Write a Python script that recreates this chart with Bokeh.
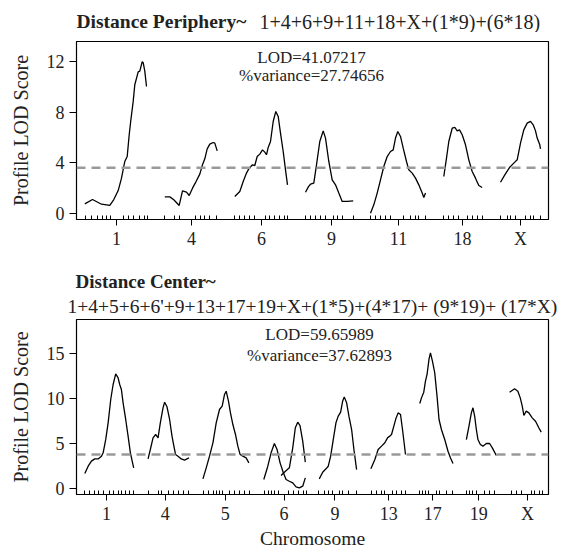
from bokeh.plotting import figure
from bokeh.layouts import column
from bokeh.models import FixedTicker, Span, Label, Title
from bokeh.core.properties import value
from bokeh.embed import file_html
from bokeh.resources import INLINE

# ---------------- data (map position in cumulative units, LOD score) ----------------
# Top panel: Distance Periphery
top_chr1_pos = [8.3, 16, 25, 30, 33.3, 37.3, 41.7, 45, 48.3, 50.7, 52.7, 54.3, 56.7, 58.3, 61.7, 63.3, 65.7, 66.7, 68.3, 70]
top_chr1_lod = [0.74, 1.08, 0.71, 0.66, 0.61, 1.08, 1.79, 2.77, 4.09, 4.48, 6.20, 7.33, 8.84, 10.16, 11.18, 11.24, 11.98, 11.90, 11.24, 10.02]
top_chr4_pos = [88.3, 93.3, 97.3, 102.7, 106, 110, 112.7, 116, 119.3, 123.3, 126, 128.3, 130.7, 133.3, 136.7, 138.3, 140.7]
top_chr4_lod = [1.29, 1.29, 1.06, 0.61, 1.77, 1.66, 1.40, 1.98, 2.46, 3.09, 3.83, 4.30, 5.09, 5.46, 5.59, 5.54, 4.93]
top_chr6_pos = [158.3, 163.3, 166.7, 170, 172.7, 176, 178.3, 180.7, 183.3, 186, 188.3, 190, 191.7, 194, 196.7, 199.3, 201.7, 204, 206.7, 209, 211]
top_chr6_lod = [1.32, 1.72, 2.51, 3.17, 3.56, 3.83, 3.77, 4.48, 4.67, 5.01, 4.83, 4.62, 5.20, 5.67, 7.25, 8.05, 7.65, 6.33, 4.88, 3.43, 2.24]
top_chr9_pos = [229, 232, 234, 237.3, 240, 243.3, 246.7, 249, 252.3, 255.7, 259, 262.3, 265.7, 270.7, 276.7]
top_chr9_lod = [1.66, 2.10, 2.29, 2.37, 3.82, 5.67, 6.51, 5.94, 4.09, 2.64, 2.24, 1.59, 0.93, 0.93, 0.98]
top_chr11_pos = [294, 297.3, 300.7, 304, 307.3, 310.7, 314, 316.7, 319, 321.3, 324, 326.7, 330, 332.3, 335.7, 339, 342.3, 345.7, 347.3, 349]
top_chr11_lod = [0.0, 0.66, 1.59, 2.64, 3.69, 4.48, 4.88, 5.01, 5.94, 6.46, 6.07, 5.14, 4.09, 3.43, 3.17, 2.77, 2.24, 1.59, 1.24, 1.59]
top_chr18_pos = [367.3, 370, 372.3, 375.7, 378.3, 380.7, 383, 385.7, 389, 392.3, 395.7, 399, 402.3, 405.7]
top_chr18_lod = [2.90, 4.35, 5.67, 6.72, 6.78, 6.51, 6.59, 6.20, 5.41, 4.22, 3.30, 2.77, 2.19, 2.03]
top_chrX_pos = [424, 428.3, 433, 437.3, 440.7, 444, 447.3, 450.7, 454, 456.7, 459, 460.7, 463.3, 464]
top_chrX_lod = [2.45, 3.03, 3.61, 3.96, 4.22, 5.54, 6.59, 7.12, 7.26, 6.99, 6.51, 5.94, 5.41, 5.09]

top_chrom_names = ["1", "4", "6", "9", "11", "18", "X"]
top_chrom_centers = [40, 115, 185, 255, 322, 386, 444]
top_markers = [9, 15, 21, 26, 30, 34, 47, 52, 57, 63, 68, 71,
               88, 98, 103, 119, 124, 128, 133, 140,
               158, 163, 168, 173, 178, 189, 193, 198, 203, 208, 211,
               229, 234, 239, 244, 249, 257, 261, 266, 277,
               294, 299, 304, 309, 314, 327, 334, 339, 342, 349,
               367, 372, 377, 382, 391, 396, 401, 406,
               424, 431, 434, 439, 449, 454, 457, 464]
top_yticks = [0, 4, 8, 12]
top_threshold = 3.6
top_lod_text = "LOD=41.07217"
top_var_text = "%variance=27.74656"
top_title_bold = "Distance Periphery~"
top_title_formula = "1+4+6+9+11+18+X+(1*9)+(6*18)"

# Bottom panel: Distance Center
bot_chr1_pos = [8.3, 11.7, 15, 18.3, 21.7, 25, 26.7, 29.3, 31.7, 34.3, 36.7, 39.3, 41.7, 43.3, 45, 46.7, 49.3, 51.7, 54, 57.3]
bot_chr1_lod = [1.69, 2.50, 3.06, 3.31, 3.31, 3.61, 3.98, 5.46, 7.30, 9.88, 11.54, 12.72, 12.28, 11.54, 10.99, 9.51, 7.67, 5.83, 3.98, 2.32]
bot_chr4_pos = [71.7, 74, 76.7, 79.3, 81.7, 84, 86.7, 88.3, 90.7, 93.3, 95.7, 97.3, 99.3, 101.7, 105, 108.3, 112.7]
bot_chr4_lod = [3.31, 4.35, 5.64, 6.01, 5.64, 7.30, 8.96, 9.58, 9.07, 7.67, 5.83, 4.90, 3.79, 3.61, 3.31, 3.17, 3.42]
bot_chr5_pos = [126.7, 130, 133.3, 136.7, 140, 143.3, 146, 148.3, 150, 152.3, 154.3, 156.7, 159.3, 161.7, 164, 166.7, 170, 172.7]
bot_chr5_lod = [1.10, 2.32, 3.61, 5.09, 7.30, 8.77, 9.14, 10.43, 10.80, 9.69, 8.40, 7.11, 6.01, 4.72, 3.79, 3.61, 3.42, 2.87]
bot_chr6_pos = [187.7, 191.7, 195, 198.3, 201, 204, 207.3, 210, 213.3, 216.7, 220, 223.3, 226.7, 229.3]
bot_chr6_lod = [1.03, 2.50, 3.98, 5.01, 4.35, 2.87, 1.77, 1.03, 0.84, 0.66, 0.22, 0.11, 0.29, 1.21]
bot_chr6b_pos = [205, 208.3, 213.3, 216.7, 219.3, 221.7, 224, 226.7, 229.3]
bot_chr6b_lod = [1.47, 1.84, 2.32, 4.53, 6.75, 7.37, 7.00, 5.27, 2.95]
bot_chr9_pos = [243.3, 246.7, 250, 252.3, 254.7, 257.3, 260, 262.3, 264.7, 266.7, 268.3, 270.7, 273, 275.7, 278, 280.7]
bot_chr9_lod = [1.10, 1.84, 2.21, 2.50, 3.61, 5.45, 7.30, 8.04, 8.48, 9.69, 10.17, 9.51, 8.04, 6.56, 4.35, 2.13]
bot_chr13_pos = [295, 299, 302.3, 305.7, 309, 311.7, 314, 315.7, 318, 320, 322.3, 324.7, 326.7, 328.3, 329.7]
bot_chr13_lod = [2.21, 3.24, 4.35, 4.72, 5.09, 5.64, 5.83, 6.01, 6.93, 7.74, 8.40, 8.22, 6.56, 5.09, 3.79]
bot_chr17_pos = [344, 345.7, 348, 349.7, 351.3, 353.3, 354.7, 356.7, 359, 361.3, 363.3, 365.7, 369, 372.3, 374.7, 377.3]
bot_chr17_lod = [9.44, 10.06, 10.69, 11.91, 12.65, 14.38, 15.04, 14.12, 12.83, 10.25, 7.67, 6.56, 5.46, 4.16, 3.43, 2.80]
bot_chr19_pos = [390.7, 393.3, 395.7, 397.3, 399, 400.7, 402.3, 404.7, 407.3, 410.7, 414, 416.7, 420.7]
bot_chr19_lod = [5.45, 6.93, 8.40, 8.96, 8.04, 6.56, 5.45, 4.90, 4.72, 5.01, 5.01, 4.53, 3.68]
bot_chrX_pos = [434, 439, 442.3, 444.7, 446.7, 448.3, 450.7, 453.3, 456.7, 460, 463.3, 465.7]
bot_chrX_lod = [10.69, 11.06, 10.80, 10.06, 9.14, 8.11, 8.59, 8.40, 7.85, 7.48, 6.75, 6.27]

bot_chrom_names = ["1", "4", "5", "6", "9", "13", "17", "19", "X"]
bot_chrom_centers = [30, 89, 149, 208, 259, 313, 357, 403, 452]
bot_markers = [8, 13, 18, 22, 27, 33, 37, 42, 45, 49, 53, 57,
               72, 82, 85, 92, 97, 102, 107, 112,
               127, 132, 137, 140, 143, 146, 153, 158, 163, 168, 173,
               188, 192, 195, 198, 202, 212, 217, 222, 227, 230,
               243, 249, 253, 257, 264, 267, 273, 281,
               296, 301, 306, 309, 317, 321, 326, 330,
               344, 347, 350, 353, 361, 364, 371, 377,
               391, 394, 397, 401, 409, 414, 419,
               436, 441, 446, 456, 459, 464, 467]
bot_yticks = [0, 5, 10, 15]
bot_threshold = 3.8
bot_lod_text = "LOD=59.65989"
bot_var_text = "%variance=37.62893"
bot_title_bold = "Distance Center~"
bot_title_formula = "1+4+5+6+6'+9+13+17+19+X+(1*5)+(4*17)+ (9*19)+ (17*X)"

FONT = "Liberation Serif"
TXT = "#222222"


def style(p, centers, names, markers, yticks, ylabel, xlabel=None):
    p.grid.visible = False
    p.outline_line_color = "black"
    p.outline_line_width = 1.2
    p.background_fill_color = "white"
    p.border_fill_color = "white"

    xa = p.xaxis[0]
    xa.ticker = FixedTicker(ticks=centers, minor_ticks=markers)
    xa.major_label_overrides = {c: n for c, n in zip(centers, names)}
    xa.major_tick_in = 0
    xa.major_tick_out = 6
    xa.minor_tick_in = 4
    xa.minor_tick_out = 0
    xa.major_tick_line_color = "black"
    xa.minor_tick_line_color = "black"
    xa.axis_line_color = "black"
    xa.major_label_standoff = 3
    xa.major_label_text_font = FONT
    xa.major_label_text_font_size = "18px"
    xa.major_label_text_color = TXT
    if xlabel:
        xa.axis_label = xlabel
        xa.axis_label_text_font = FONT
        xa.axis_label_text_font_size = "19.5px"
        xa.axis_label_text_font_style = "normal"
        xa.axis_label_text_color = TXT
        xa.axis_label_standoff = 1

    ya = p.yaxis[0]
    ya.ticker = FixedTicker(ticks=yticks, minor_ticks=[])
    ya.major_tick_in = 0
    ya.major_tick_out = 7
    ya.major_tick_line_color = "black"
    ya.axis_line_color = "black"
    ya.major_label_standoff = 5
    ya.major_label_text_font = FONT
    ya.major_label_text_font_size = "18px"
    ya.major_label_text_color = TXT
    ya.axis_label = ylabel
    ya.axis_label_text_font = FONT
    ya.axis_label_text_font_size = "20px"
    ya.axis_label_text_font_style = "normal"
    ya.axis_label_text_color = TXT
    ya.axis_label_standoff = 12


def add_note(p, x, y, text):
    p.add_layout(Label(x=x, y=y, x_units="screen", y_units="screen", text=text,
                       text_font=FONT, text_font_size="17px",
                       text_align="center", text_baseline="middle",
                       text_color=TXT))


# ---------------- top header (frame aligned with the plot below: pixels 76..548) ----------------
h1 = figure(width=563, height=32, x_range=(76, 548), y_range=(32, 0),
            output_backend="svg", toolbar_location=None,
            x_axis_location=None, y_axis_location=None,
            min_border_left=76, min_border_right=15, min_border_top=0, min_border_bottom=0)
h1.grid.visible = False
h1.outline_line_color = None
h1.text(x=[76], y=[21], text=[top_title_bold], text_font=value(FONT), text_font_size="19.5px",
        text_font_style="bold", text_align="left", text_baseline="middle", text_color=TXT)
h1.text(x=[259], y=[21], text=[top_title_formula], text_font=value(FONT), text_font_size="20px",
        text_font_style="normal", text_align="left", text_baseline="middle", text_color=TXT)

# ---------------- top panel ----------------
p1 = figure(width=563, height=228, x_range=(0, 472), y_range=(-0.5, 13.58),
            output_backend="svg", toolbar_location=None,
            min_border_left=76, min_border_right=15, min_border_top=9, min_border_bottom=41)
style(p1, top_chrom_centers, top_chrom_names, top_markers, top_yticks, "Profile LOD Score")
p1.add_layout(Span(location=top_threshold, dimension="width", line_color="#9a9a9a",
                   line_width=2.5, line_dash="9 6"))
for xs, ys in [(top_chr1_pos, top_chr1_lod), (top_chr4_pos, top_chr4_lod),
               (top_chr6_pos, top_chr6_lod), (top_chr9_pos, top_chr9_lod),
               (top_chr11_pos, top_chr11_lod), (top_chr18_pos, top_chr18_lod),
               (top_chrX_pos, top_chrX_lod)]:
    p1.line(xs, ys, line_color="black", line_width=1.3)
add_note(p1, 235, 162, top_lod_text)
add_note(p1, 235, 144, top_var_text)

# ---------------- bottom panel ----------------
p2 = figure(width=563, height=291, x_range=(0, 473), y_range=(-0.63, 18.73),
            output_backend="svg", toolbar_location=None,
            min_border_left=76, min_border_right=14, min_border_top=59, min_border_bottom=57)
style(p2, bot_chrom_centers, bot_chrom_names, bot_markers, bot_yticks, "Profile LOD Score",
      xlabel="Chromosome")
p2.add_layout(Title(text=bot_title_formula, align="left", offset=-9, standoff=5,
                    text_font=FONT, text_font_size="19.5px", text_font_style="normal",
                    text_color=TXT), "above")
p2.add_layout(Title(text=bot_title_bold, align="left", offset=-1, standoff=0,
                    text_font=FONT, text_font_size="19px", text_font_style="bold",
                    text_color=TXT), "above")
p2.add_layout(Span(location=bot_threshold, dimension="width", line_color="#9a9a9a",
                   line_width=2.5, line_dash="9 6"))
for xs, ys in [(bot_chr1_pos, bot_chr1_lod), (bot_chr4_pos, bot_chr4_lod),
               (bot_chr5_pos, bot_chr5_lod), (bot_chr6_pos, bot_chr6_lod),
               (bot_chr6b_pos, bot_chr6b_lod), (bot_chr9_pos, bot_chr9_lod),
               (bot_chr13_pos, bot_chr13_lod), (bot_chr17_pos, bot_chr17_lod),
               (bot_chr19_pos, bot_chr19_lod), (bot_chrX_pos, bot_chrX_lod)]:
    p2.line(xs, ys, line_color="black", line_width=1.3)
add_note(p2, 243, 160, bot_lod_text)
add_note(p2, 243, 139, bot_var_text)

layout = column(h1, p1, p2, spacing=0)
open("out.html", "w").write(file_html(layout, INLINE))
